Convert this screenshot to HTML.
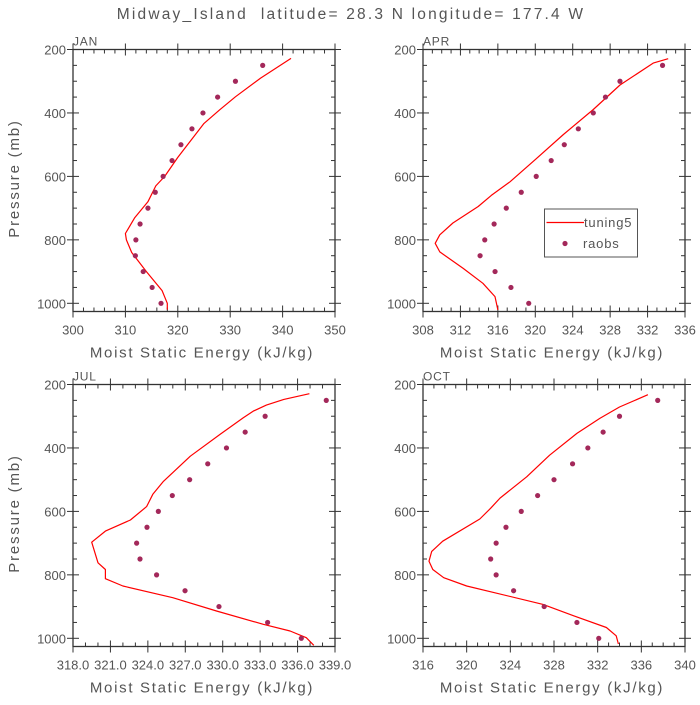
<!DOCTYPE html>
<html><head><meta charset="utf-8"><style>
body{margin:0;background:#fff;}
svg text{font-family:"Liberation Sans",sans-serif;fill:#555;}
</style></head><body>
<svg id="chart" width="700" height="700" viewBox="0 0 700 700" xmlns="http://www.w3.org/2000/svg">
<rect width="700" height="700" fill="#fff"/>
<text x="351" y="19" text-anchor="middle" font-size="15.5" letter-spacing="2.2" style="white-space:pre">Midway_Island  latitude= 28.3 N longitude= 177.4 W</text>
</svg>
<script>
// Data (pressure levels in mb)
const raobP = [250,300,350,400,450,500,550,600,650,700,750,800,850,900,950,1000];
const janRaob = [336.2,331,327.6,324.8,322.7,320.6,318.9,317.2,315.7,314.3,312.8,312,311.9,313.4,315.1,316.8];
const aprRaob = [333.6,329.05,327.5,326.2,324.6,323.1,321.7,320.1,318.5,316.9,315.6,314.6,314.1,315.7,317.4,319.3];
const julRaob = [338.3,333.4,331.8,330.3,328.8,327.35,325.96,324.84,323.93,323.1,323.37,324.7,326.98,329.7,333.6,336.3];
const octRaob = [337.5,334.0,332.5,331.1,329.7,328.0,326.5,325.0,323.6,322.7,322.2,322.7,324.3,327.1,330.1,332.1];
const janLineP = [228,290,349,390,433,540,600,630,680,730,780,800,840,900,960,1000,1020];
const janLineE = [341.6,335.8,331.0,328.0,325.0,320.0,317.5,315.8,314.3,311.8,310,310.2,311.2,314,317,318,318];
const aprLineP = [229,243,312,389,468,547,617,660,695,747,784,811,838,890,937,979,1021];
const aprLineE = [334.2,332.6,329.05,326.2,323.0,320.0,317.3,315.3,313.9,311.2,309.8,309.3,309.8,312.3,314.4,315.7,316.0];
const julLineP = [229,247,265,284,305,357,426,505,546,585,627,662,697,762,783,812,835,872,914,956,977,998,1022];
const julLineE = [336.95,334.9,333.5,332.45,331.65,329.8,327.4,325.25,324.4,323.9,322.6,320.6,319.5,320.0,320.6,320.6,322.0,326.0,329.5,333.25,335.4,336.7,337.3];
const octLineP = [232,271,307,354,423,491,558,590,624,694,726,757,783,809,835,855,893,929,966,992,1018];
const octLineE = [336.6,334.0,332.2,330.1,327.6,325.5,323.05,322.2,321.2,317.8,316.8,316.55,316.9,317.9,320.0,322.4,327.0,329.8,332.8,333.7,333.9];
const janTicks = ["300","310","320","330","340","350"];
const aprTicks = ["308","312","316","320","324","328","332","336"];
const julTicks = ["318.0","321.0","324.0","327.0","330.0","333.0","336.0","339.0"];
const octTicks = ["316","320","324","328","332","336","340"];
const pTicks = [200,400,600,800,1000];

const svg = document.getElementById('chart');
const NS = 'http://www.w3.org/2000/svg';
function mk(tag, attrs){const e=document.createElementNS(NS,tag);for(const k in attrs)e.setAttribute(k,attrs[k]);svg.appendChild(e);return e;}

const panels = [
 {name:'jan',label:'JAN',x0:73,y0:49.5,xmin:300,xmax:350,ticks:janTicks,minor:2,lp:janLineP,le:janLineE,re:janRaob,ylab:true},
 {name:'apr',label:'APR',x0:423,y0:49.5,xmin:308,xmax:336,ticks:aprTicks,minor:1,lp:aprLineP,le:aprLineE,re:aprRaob,ylab:false,legend:true},
 {name:'jul',label:'JUL',x0:73,y0:384.5,xmin:318,xmax:339,ticks:julTicks,minor:1,lp:julLineP,le:julLineE,re:julRaob,ylab:true},
 {name:'oct',label:'OCT',x0:423,y0:384.5,xmin:316,xmax:340,ticks:octTicks,minor:1,lp:octLineP,le:octLineE,re:octRaob,ylab:false}
];
const W=262, H=262, pyScale=(303.3-49.5)/800;

panels.forEach(pn=>{
  const xs = v => pn.x0 + (v-pn.xmin)/(pn.xmax-pn.xmin)*W;
  const ys = p => pn.y0 + (p-200)*pyScale;
  const f = mk('rect',{x:pn.x0,y:pn.y0,width:W,height:H,fill:'none',stroke:'#333','stroke-width':1.3});
  
  
  const pl = mk('text',{x:pn.x0,y:pn.y0-4,'font-size':12,'letter-spacing':0.8});
  pl.textContent = pn.label;
  
  
  for(let p=200;p<=1000;p+=50){
    const y=ys(p); const maj = p%200===0;
    const len = maj?6:4;
    mk('line',{x1:pn.x0-(maj?6:0),x2:pn.x0+len,y1:y,y2:y,stroke:'#333'});
    mk('line',{x1:pn.x0+W-len,x2:pn.x0+W+(maj?6:0),y1:y,y2:y,stroke:'#333'});
  }
  pTicks.forEach(p=>{
    const t = mk('text',{x:pn.x0-7,y:ys(p)+5,'text-anchor':'end','font-size':13});
    t.textContent = p;
    
    
  });
  const step = (pn.xmax-pn.xmin)/(pn.ticks.length-1);
  for(let v=pn.xmin; v<=pn.xmax+1e-6; v+=pn.minor){
    const x=xs(v); const maj = Math.abs(((v-pn.xmin)/step)-Math.round((v-pn.xmin)/step))<1e-6;
    const len = maj?6:4;
    mk('line',{x1:x,x2:x,y1:pn.y0+H-len,y2:pn.y0+H+(maj?6:0),stroke:'#333'});
    mk('line',{x1:x,x2:x,y1:pn.y0-(maj?6:0),y2:pn.y0+len,stroke:'#333'});
  }
  pn.ticks.forEach((lab,i)=>{
    const t = mk('text',{x:xs(pn.xmin+i*step),y:pn.y0+H+23,'text-anchor':'middle','font-size':13});
    t.textContent = lab;
    
    
  });
  const xl = mk('text',{x:pn.x0+W/2-2,y:pn.y0+H+46,'text-anchor':'middle','font-size':15,'letter-spacing':1.7});
  xl.textContent = 'Moist Static Energy (kJ/kg)';
  
  
  if(pn.ylab){
    const yl = mk('text',{x:0,y:0,'text-anchor':'middle','font-size':15,'letter-spacing':1.8,transform:`translate(19,${pn.y0+H/2-2}) rotate(-90)`});
    yl.textContent = 'Pressure (mb)';
    
    
  }
  const pts = pn.lp.map((p,i)=>xs(pn.le[i]).toFixed(1)+','+ys(p).toFixed(1)).join(' ');
  const line = mk('polyline',{points:pts,fill:'none',stroke:'#ff0000','stroke-width':1.2,'stroke-linejoin':'round'});
  
  
  raobP.forEach((p,i)=>{
    const c = mk('circle',{cx:xs(pn.re[i]),cy:ys(p),r:2.6,fill:'#a3285a'});
    
    
  });
  if(pn.legend){
    const lb = mk('rect',{x:544.5,y:209,width:93,height:48,fill:'#fff',stroke:'#555','stroke-width':1});
    
    
    mk('line',{x1:546.5,x2:584,y1:222.5,y2:222.5,stroke:'#ff0000','stroke-width':1.2});
    const t1 = mk('text',{x:584,y:227,'font-size':13,'letter-spacing':0.8});
    t1.textContent='tuning5';
    
    
    mk('circle',{cx:565,cy:243.5,r:2.6,fill:'#a3285a'});
    const t2 = mk('text',{x:583,y:248,'font-size':13,'letter-spacing':0.8});
    t2.textContent='raobs';
    
    
  }
});
</script>
</body></html>
